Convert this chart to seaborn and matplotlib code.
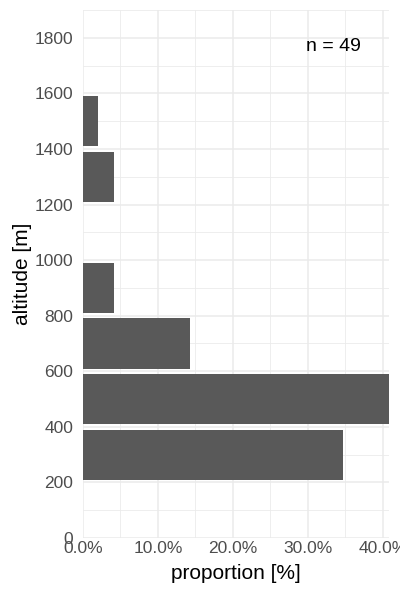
import matplotlib
matplotlib.use("Agg")
import matplotlib.pyplot as plt
import seaborn as sns
import numpy as np
import pandas as pd
from matplotlib.ticker import FuncFormatter, MultipleLocator

# Data
altitude_bins = [300, 500, 700, 900, 1300, 1500]   # bin centres [m] (200 m bins)
counts = [17, 20, 7, 2, 2, 1]
n_total = 49
proportion = [c / n_total * 100 for c in counts]

df = pd.DataFrame({"altitude": altitude_bins, "proportion": proportion})

sns.set_theme(style="white")
plt.rcParams['font.family'] = ['Liberation Sans', 'DejaVu Sans']

fig = plt.figure(figsize=(4, 6), dpi=100)
ax = fig.add_axes([0.2075, 0.1033, 0.765, 0.88])

sns.barplot(data=df, x="proportion", y="altitude", orient="h", native_scale=True,
            width=0.9, color="#595959", saturation=1, ax=ax, edgecolor="none")

ax.set_xlim(0, max(proportion))
ax.set_ylim(0, 1900)
ax.xaxis.set_major_locator(MultipleLocator(10))
ax.xaxis.set_minor_locator(MultipleLocator(5))
ax.yaxis.set_major_locator(MultipleLocator(200))
ax.yaxis.set_minor_locator(MultipleLocator(100))
ax.xaxis.set_major_formatter(FuncFormatter(lambda v, p: f"{v:.1f}%"))
ax.yaxis.set_major_formatter(FuncFormatter(lambda v, p: f"{int(v)}"))

ax.grid(True, which="major", color="#EBEBEB", linewidth=1.1)
ax.grid(True, which="minor", color="#EBEBEB", linewidth=0.6)
ax.set_axisbelow(True)
for s in ax.spines.values():
    s.set_visible(False)

ax.tick_params(axis="both", which="both", length=0, labelsize=12.5, labelcolor="#4D4D4D")
ax.tick_params(axis="y", pad=7)
ax.tick_params(axis="x", pad=2)

ax.set_xlabel("proportion [%]", fontsize=15, color="black", labelpad=6)
ax.set_ylabel("altitude [m]", fontsize=15, color="black", labelpad=2)

ax.text(0.817, 0.93, f"n = {n_total}", transform=ax.transAxes, ha="center", va="center",
        fontsize=14, color="black")

fig.savefig("out.png", dpi=100)
